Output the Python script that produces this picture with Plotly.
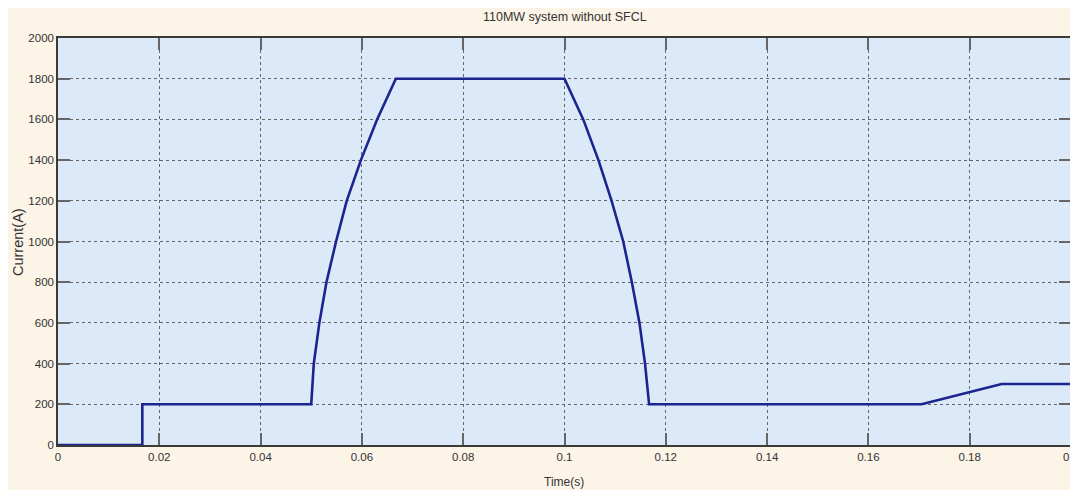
import plotly.graph_objects as go

# Data
time_s = [0, 0.01665, 0.01665, 0.05, 0.0505, 0.0516, 0.0530, 0.0549, 0.0570,
          0.0598, 0.0630, 0.0667, 0.1, 0.1037, 0.1067, 0.1093, 0.1116, 0.1133,
          0.1148, 0.1159, 0.1167, 0.1705, 0.1863, 0.2]
current_a = [0, 0, 200, 200, 400, 600, 800, 1000, 1200, 1400, 1600, 1800, 1800,
             1600, 1400, 1200, 1000, 800, 600, 400, 200, 200, 300, 300]

x_ticks = [0, 0.02, 0.04, 0.06, 0.08, 0.1, 0.12, 0.14, 0.16, 0.18, 0.2]
x_tick_labels = ["0", "0.02", "0.04", "0.06", "0.08", "0.1", "0.12", "0.14", "0.16", "0.18", "0.2"]
y_ticks = [0, 200, 400, 600, 800, 1000, 1200, 1400, 1600, 1800, 2000]
y_tick_labels = [str(v) for v in y_ticks]

title_text = "110MW system without SFCL"
x_title = "Time(s)"
y_title = "Current(A)"

# The page body has an 8px margin, so the figure starts at (8, 8) on screen.
OFF = 8
W, H = 1078 - OFF, 490 - OFF
L, R, T, B = 50, 7, 30, 45
pw, ph = W - L - R, H - T - B

def px_x(p):  # screen pixel -> paper coordinate
    return (p - OFF - L) / pw

def px_y(p):
    return (H - B - (p - OFF)) / ph

label_font = "Liberation Sans, Arial, sans-serif"

fig = go.Figure()
fig.add_trace(go.Scatter(
    x=time_s, y=current_a, mode="lines",
    line=dict(color="#1b2590", width=2.6),
    hoverinfo="skip", showlegend=False,
))

axis_common = dict(
    showline=True, linecolor="#3a3a3a", linewidth=1.5, mirror="ticks",
    ticks="inside", ticklen=12, tickwidth=2, tickcolor="#666666",
    showgrid=True, gridcolor="#666666", griddash="dot", gridwidth=1,
    zeroline=False, ticklabeloverflow="allow",
    tickfont=dict(family=label_font, size=11.5, color="#333333"),
)

fig.update_xaxes(range=[0, 0.2], tickvals=x_ticks, ticktext=x_tick_labels, **axis_common)
fig.update_yaxes(range=[0, 2000], tickvals=y_ticks, ticktext=y_tick_labels, **axis_common)

annotations = [
    dict(text=x_title, xref="paper", yref="paper", x=px_x(564), y=px_y(482),
         showarrow=False, font=dict(family=label_font, size=12, color="#333333"),
         xanchor="center", yanchor="middle"),
    dict(text=y_title, xref="paper", yref="paper", x=px_x(18), y=px_y(242),
         showarrow=False, textangle=-90,
         font=dict(family=label_font, size=14.5, color="#333333"),
         xanchor="center", yanchor="middle"),
    dict(text=title_text, xref="paper", yref="paper", x=0.5, y=px_y(17),
         showarrow=False, font=dict(family=label_font, size=12.5, color="#333333"),
         xanchor="center", yanchor="middle"),
]

fig.update_layout(
    width=W, height=H,
    margin=dict(l=L, r=R, t=T, b=B, autoexpand=False),
    paper_bgcolor="#fdf4e8",
    plot_bgcolor="#dce9f9",
    annotations=annotations,
    showlegend=False,
)

fig.write_html("out.html")
